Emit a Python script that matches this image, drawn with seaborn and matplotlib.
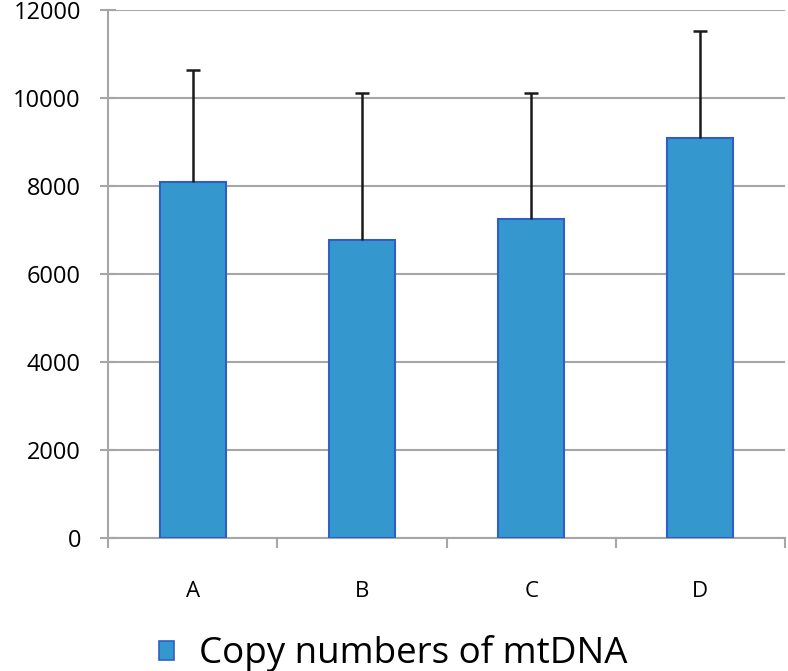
import pandas as pd
import matplotlib
matplotlib.use("Agg")
from matplotlib import pyplot as plt
from matplotlib.patches import Patch
import seaborn as sns

groups = ["A", "B", "C", "D"]
copy_numbers = [8090, 6780, 7250, 9090]
err_upper = [2550, 3340, 2870, 2440]
legend_label = "Copy numbers of mtDNA"

bar_color = "#3498cf"
edge_color = "#2f5fc4"
grid_color = "#a6a6a6"

sns.set_style("white")
plt.rcParams['font.family'] = ['Open Sans', 'DejaVu Sans']
plt.rcParams['text.color'] = 'black'

df = pd.DataFrame({"group": groups, "copies": copy_numbers})

fig = plt.figure(figsize=(7.88, 6.71), dpi=100)
ax = fig.add_axes([108/788, (671-538)/671, (785-108)/788, (538-10)/671])

sns.barplot(data=df, x="group", y="copies", color=bar_color, width=0.39,
            edgecolor=edge_color, linewidth=1.5, saturation=1, ax=ax, zorder=3)
eb = ax.errorbar(range(len(groups)), copy_numbers, yerr=[[0]*len(groups), err_upper],
                 fmt="none", ecolor="#1a1a1a", elinewidth=1.8, capsize=5, capthick=1.8, zorder=4)
# only the upper cap, like the excel chart
eb[1][0].set_visible(False)

ax.set_xlim(-0.5, 3.5)
ax.set_ylim(0, 12000)
ax.set_yticks(range(0, 12001, 2000))
ax.yaxis.grid(True, color=grid_color, linewidth=1.5, zorder=0)
ax.set_xlabel("")
ax.set_ylabel("")

# excel style category axis: ticks between categories, labels at centres
ax.set_xticks([-0.5, 0.5, 1.5, 2.5, 3.5])
ax.set_xticklabels([])
ax.set_xticks(range(len(groups)), minor=True)
ax.set_xticklabels(groups, minor=True)
ax.tick_params(axis="x", which="major", direction="out", length=7, width=1.5,
               color=grid_color, bottom=True)
ax.tick_params(axis="x", which="minor", length=0, pad=31, labelsize=16, labelcolor="black")
ax.tick_params(axis="y", direction="inout", length=11, width=1.5, color=grid_color,
               left=True, labelsize=17, pad=14, labelcolor="black")

for side in ["top", "right"]:
    ax.spines[side].set_visible(False)
for side in ["left", "bottom"]:
    ax.spines[side].set_color(grid_color)
    ax.spines[side].set_linewidth(1.5)

handle = Patch(facecolor=bar_color, edgecolor=edge_color, linewidth=1.2)
fig.legend([handle], [legend_label], loc="center", bbox_to_anchor=(393/788, 1 - 654/671),
           frameon=False, fontsize=26.5, handlelength=0.42, handleheight=0.42,
           handletextpad=0.67, labelcolor="black")

fig.savefig("out.png", dpi=100)
